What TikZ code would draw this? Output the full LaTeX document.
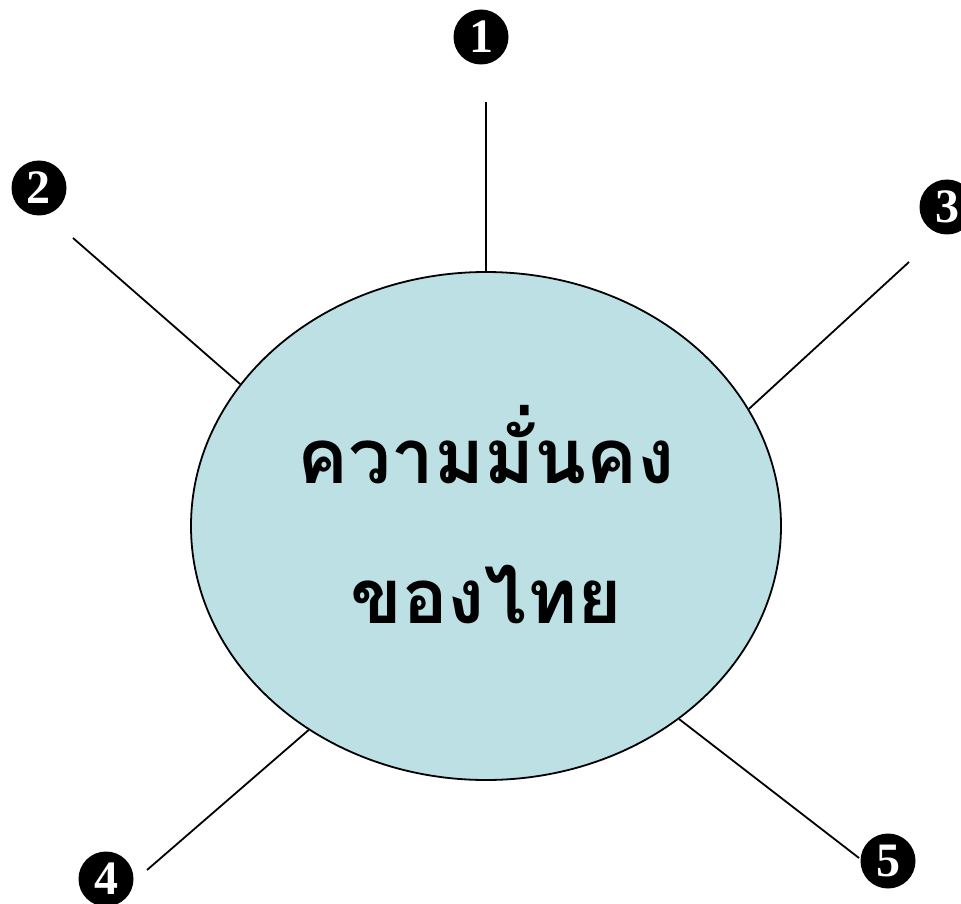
\documentclass[tikz,border=0pt]{standalone}
\usepackage{fontspec}
\usetikzlibrary{shapes.geometric}
\newfontfamily\thaifont[Script=Thai]{Loma}
\newfontfamily\numfont{Liberation Serif}
\definecolor{ellfill}{RGB}{188,224,228}
\tikzset{
  num/.style={circle, fill=black, text=white, minimum size=55pt, inner sep=0pt, font=\numfont\bfseries\fontsize{48}{48}\selectfont},
  spoke/.style={draw=black, line width=1.8pt},
}
\begin{document}
\begin{tikzpicture}[x=1pt,y=-1pt]
\useasboundingbox (0,0) rectangle (961,904);
\node[ellipse, draw=black, line width=1.8pt, fill=ellfill, minimum width=590pt, minimum height=508pt, inner sep=0pt] (e) at (486,526) {};
\node[font=\thaifont\bfseries\fontsize{76}{140}\selectfont, anchor=base] (t1) at (486,483) {ความมั่นคง};
\node[font=\thaifont\bfseries\fontsize{76}{140}\selectfont, anchor=base] (t2) at (486,623) {ของไทย};
\node[num] (n1) at (481,37) {1};
\node[num] (n2) at (39,188) {2};
\node[num] (n3) at (947,207) {3};
\node[num] (n4) at (106,879) {4};
\node[num] (n5) at (888,861) {5};
\coordinate (c1) at (486,102);
\coordinate (c2) at (73,238);
\coordinate (c3) at (909,262);
\coordinate (c4) at (147,870);
\coordinate (c5) at (859,858);
\draw[spoke] (c1) -- (e.north);
\draw[spoke] (c2) -- (e.150.2);
\draw[spoke] (c3) -- (e.24.7);
\draw[spoke] (c4) -- (e.229.7);
\draw[spoke] (c5) -- (e.315.3);
\end{tikzpicture}
\end{document}
